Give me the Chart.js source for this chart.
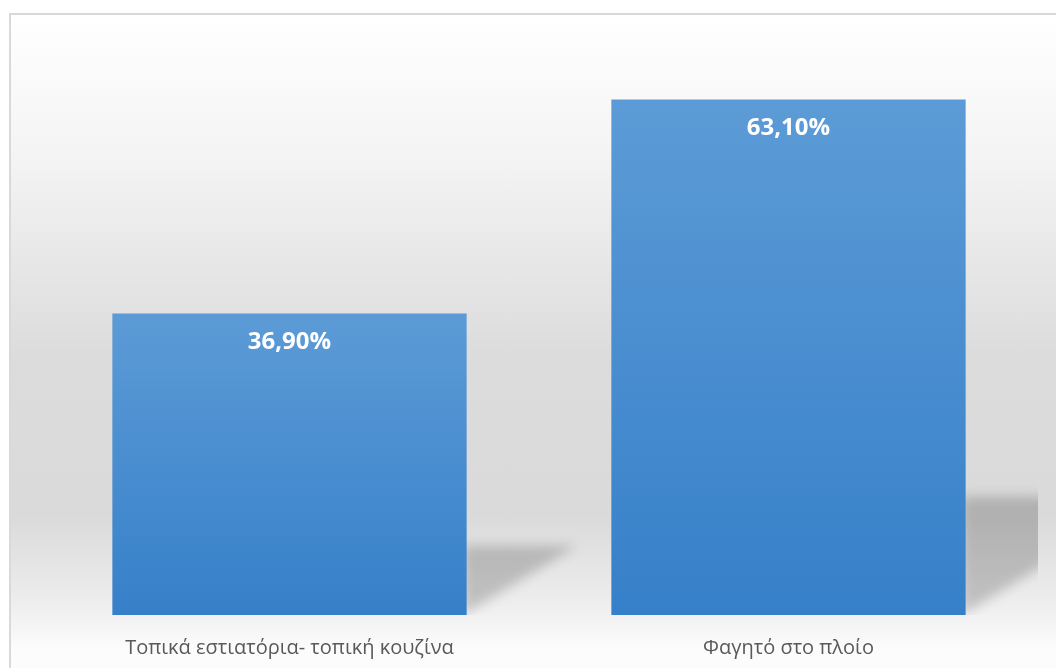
<!DOCTYPE html>
<html>
<head>
<meta charset="utf-8">
<script src="https://cdn.jsdelivr.net/npm/chart.js@4"></script>
<style>
  html, body { margin: 0; padding: 0; background: #fff; overflow: hidden; }
  .frame {
    position: absolute; left: 9px; top: 13px; width: 1100px; height: 700px;
    border: 2px solid #d9d9d9; box-sizing: border-box;
    background: linear-gradient(to bottom, #ffffff 0px, #f4f4f4 140px, #dcdcdc 340px, #dadada 500px, #eeeeee 590px, #fcfcfc 635px);
  }
  #wrap { position: absolute; left: 0; top: 0; width: 1056px; height: 693px; }
</style>
</head>
<body>
<div class="frame"></div>
<div id="wrap"><canvas id="foodChart"></canvas></div>
<script>
const categories = ['Τοπικά εστιατόρια- τοπική κουζίνα', 'Φαγητό στο πλοίο'];
const shares = [36.9, 63.1];

// per-bar vertical gradient, lighter at the top of each bar
function barFill(c) {
  const chart = c.chart;
  const y = chart.scales.y;
  if (!y || typeof c.raw !== 'number') return '#4a8fd0';
  const top = y.getPixelForValue(c.raw);
  const bottom = y.getPixelForValue(0);
  if (!isFinite(top) || !isFinite(bottom)) return '#4a8fd0';
  const g = chart.ctx.createLinearGradient(0, top, 0, bottom);
  g.addColorStop(0, '#5c9bd6');
  g.addColorStop(1, '#3680c9');
  return g;
}

// soft perspective shadow behind the bottom-right of each bar
const barShadow = {
  id: 'barShadow',
  beforeDatasetsDraw(chart) {
    const { ctx, chartArea } = chart;
    ctx.save();
    ctx.beginPath();
    ctx.rect(chartArea.left, chartArea.top, chartArea.right - chartArea.left, chartArea.bottom - chartArea.top);
    ctx.clip();
    ctx.filter = 'blur(6px)';
    ctx.fillStyle = 'rgba(0,0,0,0.19)';
    chart.getDatasetMeta(0).data.forEach(bar => {
      const right = bar.x + bar.width / 2 - 4;
      const h = bar.base - bar.y;
      const sh = h * 0.23;
      ctx.beginPath();
      ctx.moveTo(right, bar.base);
      ctx.lineTo(right, bar.base - sh);
      ctx.lineTo(right + sh * 1.65, bar.base - sh);
      ctx.closePath();
      ctx.fill();
    });
    ctx.restore();
  }
};

// white value labels inside the top of the bars
const valueLabels = {
  id: 'valueLabels',
  afterDatasetsDraw(chart) {
    const { ctx } = chart;
    ctx.save();
    ctx.fillStyle = '#ffffff';
    ctx.font = 'bold 24px "Open Sans"';
    ctx.textAlign = 'center';
    ctx.textBaseline = 'middle';
    chart.getDatasetMeta(0).data.forEach((bar, i) => {
      const txt = shares[i].toFixed(2).replace('.', ',') + '%';
      ctx.fillText(txt, bar.x, bar.y + 29);
    });
    ctx.restore();
  }
};

new Chart(document.getElementById('foodChart'), {
  type: 'bar',
  data: {
    labels: categories,
    datasets: [{
      data: shares,
      backgroundColor: barFill,
      borderWidth: 0,
      categoryPercentage: 1,
      barPercentage: 0.71
    }]
  },
  options: {
    responsive: true,
    maintainAspectRatio: false,
    animation: false,
    layout: { padding: { left: 40, right: 18, top: 43, bottom: 12 } },
    plugins: { legend: { display: false }, tooltip: { enabled: false } },
    scales: {
      x: {
        grid: { display: false, drawTicks: false },
        border: { display: false },
        ticks: { color: '#595959', padding: 21, font: { family: 'Open Sans', size: 20 } }
      },
      y: { display: false, min: 0, max: 70 }
    }
  },
  plugins: [barShadow, valueLabels]
});
</script>
</body>
</html>
